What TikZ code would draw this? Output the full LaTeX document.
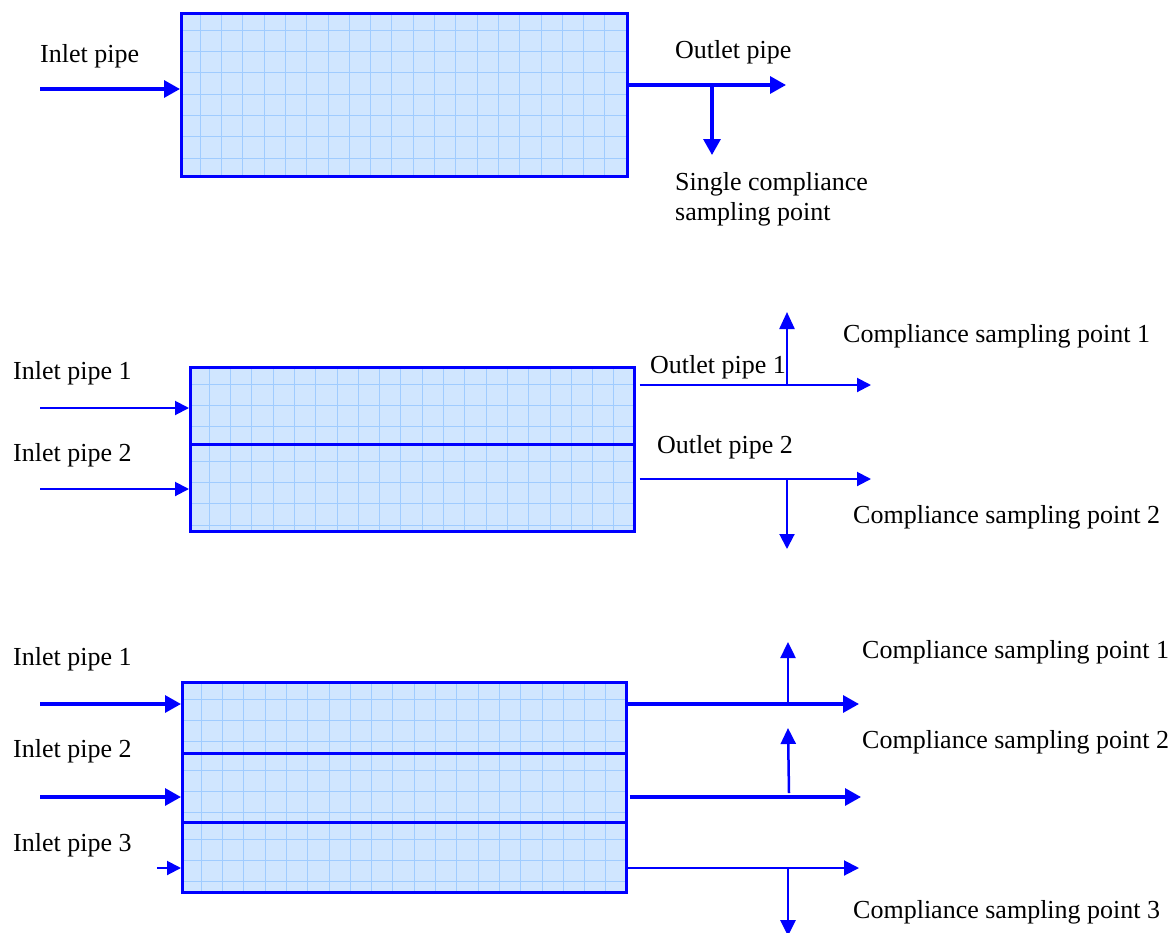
\documentclass[tikz,border=0pt]{standalone}
\usepackage{fontspec}
\setmainfont{Liberation Serif}
\usetikzlibrary{arrows.meta}
\definecolor{pipeblue}{RGB}{0,0,255}
\definecolor{tankfill}{RGB}{208,230,255}
\definecolor{tankgrid}{RGB}{160,204,255}
\tikzset{
  tank/.style={draw=pipeblue, line width=2.5pt, fill=tankfill, anchor=north west, inner sep=0pt,
    path picture={
      \foreach \i in {0,...,22}
        \draw[tankgrid, line width=1pt]
          ([xshift=19pt+\i*21.3pt]path picture bounding box.north west) --
          ([xshift=19pt+\i*21.3pt]path picture bounding box.south west);
      \foreach \j in {0,...,8}
        \draw[tankgrid, line width=1pt]
          ([yshift=-17pt-\j*21.3pt]path picture bounding box.north west) --
          ([yshift=-17pt-\j*21.3pt]path picture bounding box.north east);
    }},
  thickpipe/.style={draw=pipeblue, line width=3.2pt, -{Triangle[length=16pt,width=17pt]}},
  thinpipe/.style={draw=pipeblue, line width=2pt, -{Triangle[length=14pt,width=14pt]}},
  lbl/.style={anchor=base west, inner sep=0pt, font=\fontsize{26}{30}\selectfont},
}
\begin{document}
\begin{tikzpicture}[x=1pt,y=-1pt]
\useasboundingbox (0,0) rectangle (1175,932);

% ---------- Panel 1 ----------
\node[tank, minimum width=446pt, minimum height=163pt] (b1) at (180,12) {};
\node[lbl] (t1in) at (40,62) {Inlet pipe};
\node[lbl] (t1out) at (675,58) {Outlet pipe};
\node[lbl, align=left] (t1s) at (675,220) {Single compliance\\sampling point};
\coordinate (p1in) at (40,89);
\draw[thickpipe] (p1in) -- (p1in -| b1.west);
\coordinate (p1out) at (786,85);
\draw[thickpipe] (p1out -| b1.east) -- (p1out);
\coordinate (p1s) at (712,155);
\draw[thickpipe] (p1s |- p1out) -- (p1s);

% ---------- Panel 2 ----------
\node[tank, minimum width=444pt, minimum height=77pt] (b2a) at (189,366) {};
\node[tank, minimum width=444pt, minimum height=87pt] (b2b) at (189,443) {};
\node[lbl] (t2in1) at (13,379) {Inlet pipe 1};
\node[lbl] (t2in2) at (13,461) {Inlet pipe 2};
\node[lbl] (t2out1) at (650,373) {Outlet pipe 1};
\node[lbl] (t2out2) at (657,453) {Outlet pipe 2};
\node[lbl] (t2c1) at (843,342) {Compliance sampling point 1};
\node[lbl] (t2c2) at (853,523) {Compliance sampling point 2};
\coordinate (p2in1) at (40,408);
\coordinate (p2in2) at (40,489);
\draw[thinpipe] (p2in1) -- (p2in1 -| b2a.west);
\draw[thinpipe] (p2in2) -- (p2in2 -| b2b.west);
\coordinate (p2out1) at (871,385);
\coordinate (p2out2) at (871,479);
\draw[thinpipe] ([xshift=4pt]p2out1 -| b2a.east) -- (p2out1);
\draw[thinpipe] ([xshift=4pt]p2out2 -| b2b.east) -- (p2out2);
\coordinate (p2s1) at (787,312);
\coordinate (p2s2) at (787,549);
\draw[thinpipe, line width=2.4pt, -{Triangle[length=17pt,width=15pt]}] (p2s1 |- p2out1) -- (p2s1);
\draw[thinpipe, -{Triangle[length=15pt,width=15pt]}] (p2s2 |- p2out2) -- (p2s2);

% ---------- Panel 3 ----------
\node[tank, minimum width=444pt, minimum height=71pt] (b3a) at (181,681) {};
\node[tank, minimum width=444pt, minimum height=69pt] (b3b) at (181,752) {};
\node[tank, minimum width=444pt, minimum height=70pt] (b3c) at (181,821) {};
\node[lbl] (t3in1) at (13,665) {Inlet pipe 1};
\node[lbl] (t3in2) at (13,757) {Inlet pipe 2};
\node[lbl] (t3in3) at (13,851) {Inlet pipe 3};
\node[lbl] (t3c1) at (862,658) {Compliance sampling point 1};
\node[lbl] (t3c2) at (862,748) {Compliance sampling point 2};
\node[lbl] (t3c3) at (853,918) {Compliance sampling point 3};
\coordinate (p3in1) at (40,704);
\coordinate (p3in2) at (40,797);
\coordinate (p3in3) at (157,868);
\draw[thickpipe] (p3in1) -- (p3in1 -| b3a.west);
\draw[thickpipe] (p3in2) -- (p3in2 -| b3b.west);
\draw[thinpipe] (p3in3) -- (p3in3 -| b3c.west);
\coordinate (p3out1) at (859,704);
\coordinate (p3out2) at (861,797);
\coordinate (p3out3) at (859,868);
\draw[thickpipe] (p3out1 -| b3a.east) -- (p3out1);
\draw[thickpipe] ([xshift=2pt]p3out2 -| b3b.east) -- (p3out2);
\draw[thinpipe, -{Triangle[length=15pt,width=15pt]}] (p3out3 -| b3c.east) -- (p3out3);
\coordinate (p3s1) at (788,642);
\coordinate (p3s2) at (788,728);
\coordinate (p3s2b) at (789,793);
\coordinate (p3s3) at (788,936);
\draw[thinpipe, line width=2.5pt, -{Triangle[length=16pt,width=15pt]}] (p3s1 |- p3out1) -- (p3s1);
\draw[thinpipe, line width=2.5pt, -{Triangle[length=16pt,width=15pt]}] (p3s2b) -- (p3s2);
\draw[thinpipe, line width=2.8pt, -{Triangle[length=16pt,width=15pt]}] (p3s3 |- p3out3) -- (p3s3);
\end{tikzpicture}
\end{document}
